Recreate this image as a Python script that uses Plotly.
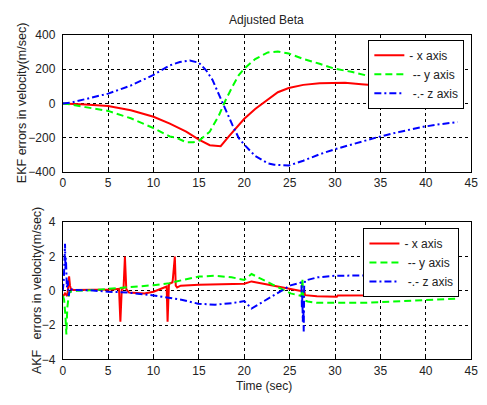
import plotly.graph_objects as go

# ---------------- EKF (top) data ----------------
t_ekf_x = [0, 1, 2.5, 5, 7.5, 10, 11.8, 13.6, 15, 16.2, 17.4, 18.3, 19.2, 20, 21.2, 22.6, 23.7,
           24.9, 26.5, 28.3, 29.9, 31.1, 32.9, 34.5, 36, 38, 40, 41.5, 42.3, 43.5]
ekf_x = [0, -2, -6, -15, -39, -77, -117, -164, -211, -243, -249, -192, -136, -89, -32, 25, 66,
         91, 109, 119, 121, 121, 112, 106, 100, 94, 86, 77, 70, 68]

t_ekf_y = [0, 1, 2.5, 5, 7.5, 10, 11.8, 12.5, 13.6, 14.4, 15, 16.2, 17.2, 17.9, 18.7, 19.4, 20,
           21.2, 22.6, 23.7, 24.9, 26.5, 28.3, 29.9, 31.8, 33.6, 36, 38, 40, 42, 43.5]
ekf_y = [0, -6, -21, -43, -86, -143, -192, -199, -226, -226, -217, -164, -70, 15, 100, 166, 204,
         260, 298, 304, 292, 260, 232, 204, 185, 162, 145, 130, 117, 105, 97]

t_ekf_z = [0, 1, 2.5, 5, 7.5, 10, 11.8, 12.9, 14, 15, 15.8, 16.5, 17.2, 17.9, 18.7, 19.4, 20,
           21.2, 22.6, 23.3, 24.9, 26.5, 28.3, 29.9, 31.8, 34.7, 37.2, 39.7, 41.5, 43.5]
ekf_z = [0, 6, 26, 58, 105, 167, 223, 242, 251, 238, 194, 138, 53, -32, -126, -202, -240,
         -306, -349, -357, -362, -334, -296, -268, -240, -196, -164, -136, -121, -108]

# ---------------- AKF (bottom) data ----------------
t_akf_x = [0, 0.25, 0.5, 0.7, 0.8, 0.9, 1.2, 3, 5.5, 6.2, 6.35, 6.5, 6.7, 6.85, 7.0, 7.3, 9, 10,
           11.2, 11.45, 11.55, 11.7, 12.1, 12.35, 12.45, 12.6, 13, 15, 20, 20.8, 22.4, 24.2, 25,
           26.1, 26.6, 26.7, 28, 30.2, 30.3, 37, 37.1, 42, 42.1, 43.5]
akf_x = [-0.35, -0.15, -0.3, 0.85, 0.3, 0.1, 0.05, 0.05, 0.08, 0.12, -1.8, 0.1, 0.15, 2.0, 0.1,
         -0.1, -0.15, -0.05, 0.2, 0.25, -1.8, 0.4, 0.5, 2.0, 0.3, 0.2, 0.3, 0.35, 0.42, 0.55, 0.38,
         0.19, 0.08, 0.0, 0.0, -0.25, -0.32, -0.34, -0.27, -0.26, -0.21, -0.21, -0.15, -0.15]

t_akf_y = [0, 0.15, 0.3, 0.4, 0.5, 0.7, 0.9, 1.5, 3, 4.9, 6.6, 8, 10, 11.8, 12.5, 15, 16.8, 18.6,
           20, 20.8, 22.4, 24.2, 25.1, 26.3, 26.4, 26.5, 26.6, 27, 28, 33.3, 37, 40, 42.5, 43.5]
akf_y = [-0.3, -0.5, -1.5, -2.55, -1.0, -0.1, -0.05, 0.0, 0.03, 0.1, 0.18, 0.25, 0.33, 0.45, 0.55,
         0.83, 0.88, 0.79, 0.64, 0.98, 0.56, 0.13, -0.15, -0.3, 0.73, -0.3, -0.55, -0.62, -0.7,
         -0.7, -0.6, -0.54, -0.46, -0.45]

t_akf_z = [0, 0.1, 0.2, 0.25, 0.3, 0.35, 0.45, 0.55, 0.65, 0.8, 1.2, 3, 5, 7.1, 9.6, 11.4, 13.2,
           14.9, 16.8, 18.6, 20, 20.8, 22.4, 24.2, 25.1, 26.1, 26.3, 26.35, 26.4, 26.45, 26.5,
           26.55, 26.6, 26.7, 28.1, 30, 33, 36, 40, 43.5]
akf_z = [0.0, 0.5, 1.8, 2.75, 1.2, 1.9, 0.2, 0.6, -0.3, 0.1, 0.05, 0.03, -0.05, -0.1, -0.24,
         -0.37, -0.53, -0.75, -0.81, -0.72, -0.6, -1.03, -0.53, 0.04, 0.32, 0.45, 0.5, -1.0, -0.3,
         -1.8, -0.6, -2.37, 0.3, 0.6, 0.79, 0.88, 0.9, 0.92, 0.94, 0.95]

names = ["- x axis", " -- y axis", " -.- z axis"]
colors = ["#FF0000", "#00FF00", "#0000FF"]
dashes = ["solid", "7px,4px", "7px,3px,2px,3px"]

x_ticks = [0, 5, 10, 15, 20, 25, 30, 35, 40, 45]
ekf_ticks = [-400, -200, 0, 200, 400]
akf_ticks = [-4, -2, 0, 2, 4]

W, H = 487, 405
FONT = "Liberation Sans, Arial, sans-serif"

fig = go.Figure()

for t, v, nm, c, d in zip([t_ekf_x, t_ekf_y, t_ekf_z], [ekf_x, ekf_y, ekf_z], names, colors, dashes):
    fig.add_trace(go.Scatter(x=t, y=v, mode="lines", name=nm, xaxis="x", yaxis="y",
                             line=dict(color=c, width=2, dash=d), legend="legend"))
for t, v, nm, c, d in zip([t_akf_x, t_akf_y, t_akf_z], [akf_x, akf_y, akf_z], names, colors, dashes):
    fig.add_trace(go.Scatter(x=t, y=v, mode="lines", name=nm, xaxis="x2", yaxis="y2",
                             line=dict(color=c, width=2, dash=d), legend="legend2"))

xd = [61 / W, 478 / W]
base = dict(showline=True, linecolor="black", linewidth=1, mirror=True,
            showgrid=True, gridcolor="black", gridwidth=1, griddash="3px,3px",
            zeroline=False, tickfont=dict(family=FONT, size=12, color="#222"))
xcommon = dict(ticks="inside", ticklen=4, tickcolor="black", **base)
ycommon = dict(ticks="outside", ticklen=4, tickcolor="rgba(0,0,0,0)", **base)

fig.update_layout(
    width=W, height=H,
    margin=dict(l=0, r=0, t=0, b=0),
    paper_bgcolor="white", plot_bgcolor="white",
    font=dict(family=FONT, size=12, color="#222"),
    xaxis=dict(domain=xd, range=[0, 45], tickvals=x_ticks, anchor="y", **xcommon),
    yaxis=dict(domain=[1 - 171 / H, 1 - 29 / H], range=[-400, 400], tickvals=ekf_ticks,
               anchor="x", **ycommon),
    xaxis2=dict(domain=xd, range=[0, 45], tickvals=x_ticks, anchor="y2", **xcommon),
    yaxis2=dict(domain=[1 - 365 / H, 1 - 223 / H], range=[-4, 4], tickvals=akf_ticks,
                anchor="x2", **ycommon),
    legend=dict(x=373 / W, y=1 - 34 / H, xanchor="left", yanchor="top",
                bgcolor="white", bordercolor="black", borderwidth=1,
                font=dict(family=FONT, size=12, color="#222"), tracegroupgap=0),
    legend2=dict(x=368 / W, y=1 - 229 / H, xanchor="left", yanchor="top",
                 bgcolor="white", bordercolor="black", borderwidth=1,
                 font=dict(family=FONT, size=12, color="#222"), tracegroupgap=0),
    showlegend=True,
    annotations=[
        dict(text="Adjusted Beta", x=269.5 / W, y=1 - 13 / H, xref="paper", yref="paper",
             showarrow=False, xanchor="center", yanchor="middle",
             font=dict(family=FONT, size=12, color="#222")),
        dict(text="EKF errors in velocity(m/sec)", x=19 / W, y=1 - 100 / H, xref="paper",
             yref="paper", showarrow=False, textangle=-90, xanchor="center", yanchor="middle",
             font=dict(family=FONT, size=12.5, color="#222")),
        dict(text="AKF   errors in velocity(m/sec)", x=35 / W, y=1 - 294 / H, xref="paper",
             yref="paper", showarrow=False, textangle=-90, xanchor="center", yanchor="middle",
             font=dict(family=FONT, size=12.5, color="#222")),
        dict(text="Time (sec)", x=266 / W, y=1 - 393 / H, xref="paper", yref="paper",
             showarrow=False, xanchor="center", yanchor="middle",
             font=dict(family=FONT, size=12, color="#222")),
    ],
)

fig.write_html("out.html")
